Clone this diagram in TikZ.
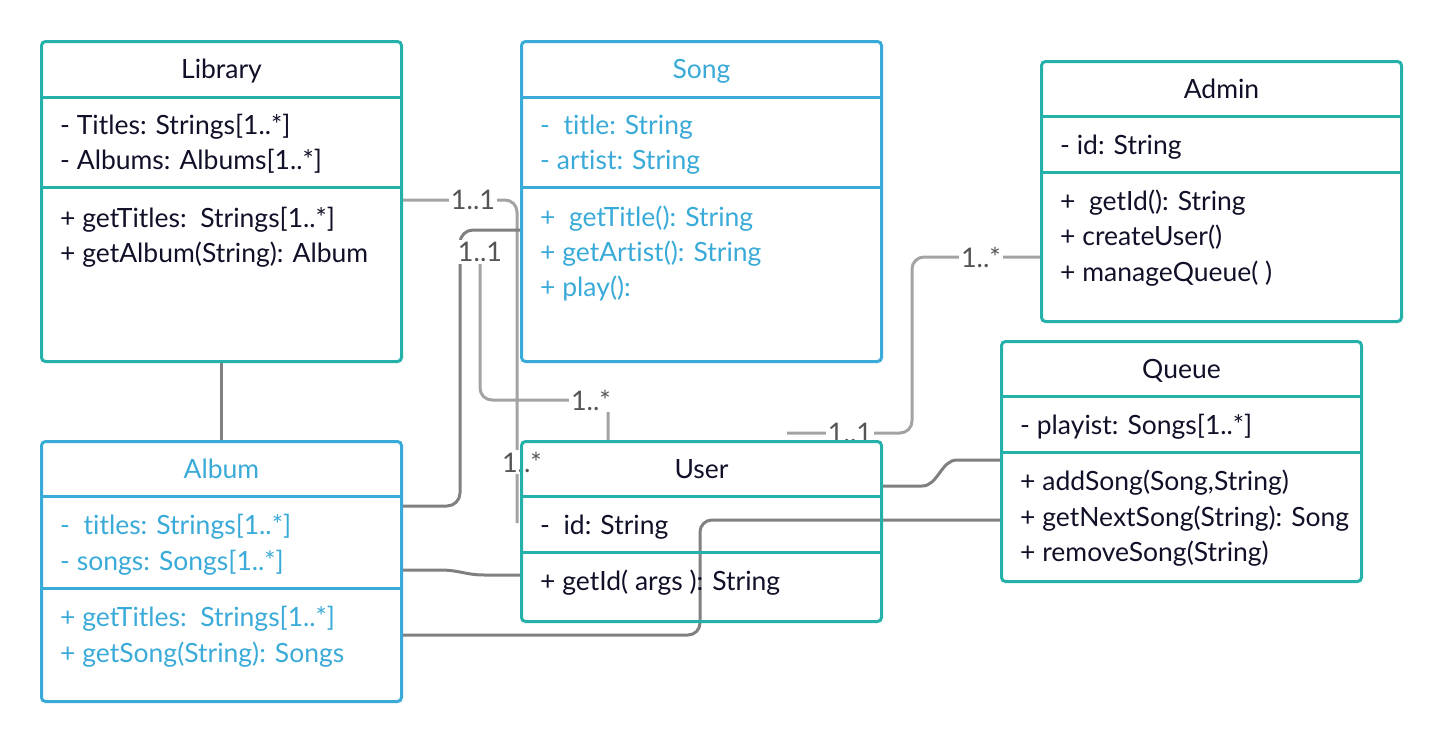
\documentclass[tikz,border=0pt]{standalone}
\usepackage{fontspec}
\setmainfont{Lato}[Ligatures=NoCommon]
\usepackage{xcolor,tikz}
\usetikzlibrary{calc,positioning}
\pgfdeclarelayer{background}
\pgfsetlayers{background,main}
\definecolor{umlteal}{RGB}{38,176,170}
\definecolor{umlblue}{RGB}{58,170,216}
\definecolor{umlink}{RGB}{16,16,40}
\definecolor{linkdark}{RGB}{128,128,128}
\definecolor{linklight}{RGB}{163,163,163}
\definecolor{multink}{RGB}{85,85,85}
\tikzset{
  classbox/.style={draw=#1, line width=3pt, rounded corners=4pt, inner sep=0pt,
    anchor=north west, minimum width=360pt},
  divider/.style={draw=#1, line width=3pt},
  classname/.style={anchor=base, inner sep=0pt, font=\fontsize{26.5}{30}\selectfont},
  member/.style={anchor=base west, inner sep=0pt, font=\fontsize{26.5}{30}\selectfont},
  darklink/.style={draw=linkdark, line width=3pt},
  lightlink/.style={draw=linklight, line width=3pt},
  mult/.style={fill=white, inner sep=2pt, text=multink, font=\fontsize{27}{30}\selectfont}
}

\begin{document}
\begin{tikzpicture}[x=1pt,y=-1pt]
    \useasboundingbox (0,0) rectangle (1440,740);
    %%%% classes
    \node[classbox=umlteal, minimum height=320pt] (library) at (40,40) {};
    \node[classbox=umlblue, minimum height=320pt] (song) at (520,40) {};
    \node[classbox=umlteal, minimum height=260pt] (admin) at (1040,60) {};
    \node[classbox=umlteal, minimum height=240pt] (queue) at (1000,340) {};
    \node[classbox=umlblue, minimum height=260pt] (album) at (40,440) {};
    \node[classbox=umlteal, minimum height=180pt] (user) at (520,440) {};
    %%%% compartments
    \draw[divider=umlteal] ($(library.north west)+(0,57)$) -- ($(library.north east)+(0,57)$);
    \draw[divider=umlteal] ($(library.north west)+(0,147)$) -- ($(library.north east)+(0,147)$);
    \draw[divider=umlblue] ($(song.north west)+(0,57)$) -- ($(song.north east)+(0,57)$);
    \draw[divider=umlblue] ($(song.north west)+(0,147)$) -- ($(song.north east)+(0,147)$);
    \draw[divider=umlteal] ($(admin.north west)+(0,56)$) -- ($(admin.north east)+(0,56)$);
    \draw[divider=umlteal] ($(admin.north west)+(0,112)$) -- ($(admin.north east)+(0,112)$);
    \draw[divider=umlteal] ($(queue.north west)+(0,56)$) -- ($(queue.north east)+(0,56)$);
    \draw[divider=umlteal] ($(queue.north west)+(0,112)$) -- ($(queue.north east)+(0,112)$);
    \draw[divider=umlblue] ($(album.north west)+(0,56)$) -- ($(album.north east)+(0,56)$);
    \draw[divider=umlblue] ($(album.north west)+(0,148)$) -- ($(album.north east)+(0,148)$);
    \draw[divider=umlteal] ($(user.north west)+(0,56)$) -- ($(user.north east)+(0,56)$);
    \draw[divider=umlteal] ($(user.north west)+(0,112)$) -- ($(user.north east)+(0,112)$);
    %%%% Library
    \node[classname, text=umlink] (libraryname) at ($(library.north)+(0,38)$) {Library};
    \node[member, text=umlink] (librarytitles) at ($(library.north west)+(20,94)$) {- Titles: Strings[1..*]};
    \node[member, text=umlink] (libraryalbums) at ($(library.north west)+(20,129)$) {- Albums: Albums[1..*]};
    \node[member, text=umlink] (librarygettitles) at ($(library.north west)+(20,187)$) {+ getTitles:\ \ Strings[1..*]};
    \node[member, text=umlink] (librarygetalbum) at ($(library.north west)+(20,222)$) {+ getAlbum(String): Album};
    %%%% Song
    \node[classname, text=umlblue] (songname) at ($(song.north)+(0,38)$) {Song};
    \node[member, text=umlblue] (songtitle) at ($(song.north west)+(20,94)$) {-\ \ title: String};
    \node[member, text=umlblue] (songartist) at ($(song.north west)+(20,129)$) {- artist: String};
    \node[member, text=umlblue] (songgettitle) at ($(song.north west)+(20,186)$) {+\ \ getTitle(): String};
    \node[member, text=umlblue] (songgetartist) at ($(song.north west)+(20,221)$) {+ getArtist(): String};
    \node[member, text=umlblue] (songplay) at ($(song.north west)+(20,256)$) {+ play():};
    %%%% Admin
    \node[classname, text=umlink] (adminname) at ($(admin.north)+(0,38)$) {Admin};
    \node[member, text=umlink] (adminid) at ($(admin.north west)+(20,94)$) {- id: String};
    \node[member, text=umlink] (admingetid) at ($(admin.north west)+(20,150)$) {+\ \ getId(): String};
    \node[member, text=umlink] (admincreate) at ($(admin.north west)+(20,185)$) {+ createUser()};
    \node[member, text=umlink] (adminmanage) at ($(admin.north west)+(20,221)$) {+ manageQueue( )};
    %%%% Queue
    \node[classname, text=umlink] (queuename) at ($(queue.north)+(0,38)$) {Queue};
    \node[member, text=umlink] (queueplaylist) at ($(queue.north west)+(20,94)$) {- playist: Songs[1..*]};
    \node[member, text=umlink] (queueadd) at ($(queue.north west)+(20,150)$) {+ addSong(Song,String)};
    \node[member, text=umlink] (queuenext) at ($(queue.north west)+(20,186)$) {+ getNextSong(String): Song};
    \node[member, text=umlink] (queueremove) at ($(queue.north west)+(20,221)$) {+ removeSong(String)};
    %%%% Album
    \node[classname, text=umlblue] (albumname) at ($(album.north)+(0,38)$) {Album};
    \node[member, text=umlblue] (albumtitles) at ($(album.north west)+(20,94)$) {-\ \ titles: Strings[1..*]};
    \node[member, text=umlblue] (albumsongs) at ($(album.north west)+(20,130)$) {- songs: Songs[1..*]};
    \node[member, text=umlblue] (albumgettitles) at ($(album.north west)+(20,186)$) {+ getTitles:\ \ Strings[1..*]};
    \node[member, text=umlblue] (albumgetsong) at ($(album.north west)+(20,222)$) {+ getSong(String): Songs};
    %%%% User
    \node[classname, text=umlink] (username) at ($(user.north)+(0,38)$) {User};
    \node[member, text=umlink] (userid) at ($(user.north west)+(20,94)$) {-\ \ id: String};
    \node[member, text=umlink] (usergetid) at ($(user.north west)+(20,150)$) {+ getId( args ): String};
    %%%% associations
    \begin{pgfonlayer}{background}
        \draw[darklink] (library.south) -- (album.north);
        \draw[lightlink, rounded corners=12pt] (library.east |- 0,200) -| ($(user.north west)+(-3,83)$);
        \node[mult] (libraryone) at (473,200) {1..1};
        \node[mult] (usermany) at (522,462) {1..*};
        \draw[darklink, rounded corners=13pt] (album.east |- 0,506) -| (460,230) -- (song.west |- 0,230);
        \node[mult] (songone) at (480,252) {1..1};
        \draw[lightlink, rounded corners=12pt] (songone.south) |- (608,400) -- (user.north -| 608,0);
        \node[mult] (usermanytop) at (591,400) {1..*};
        \coordinate (userstub) at (787,433);
        \draw[lightlink, rounded corners=12pt] (userstub) -| (912,257) -- (admin.west |- 0,257);
        \node[mult] (userone) at (850,433) {1..1};
        \node[mult] (adminmany) at (981,257) {1..*};
        \draw[darklink] (user.east |- 0,486) -- (922,486) .. controls (938,486) and (941,460) .. (957,460) -- (queue.west |- 0,460);
        \draw[darklink] (album.east |- 0,570) -- (440,570) .. controls (460,570) and (465,575) .. (485,575) -- (user.west |- 0,575);
        \draw[darklink, rounded corners=12pt] (album.east |- 0,635) -| (700,520) -- (queue.west |- 0,520);
    \end{pgfonlayer}
\end{tikzpicture}
\end{document}
